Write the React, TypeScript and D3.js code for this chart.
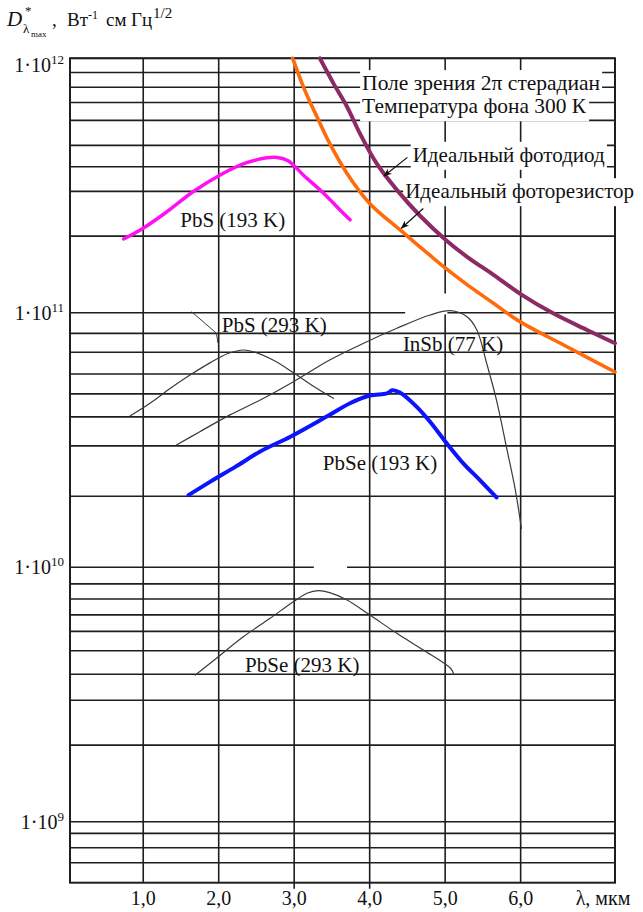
import React, { useRef, useEffect } from "react";
import * as d3 from "d3";

const W = 643;
const H = 912;

// wavelength (мкм) -> D* (Вт^-1 см Гц^1/2)
const idealDiode = [[3.34, 1e12], [3.52, 7.97e11], [3.7, 6.45e11], [3.87, 5.07e11], [4.09, 3.87e11], [4.36, 3.04e11], [4.67, 2.4e11], [5.02, 1.92e11], [5.29, 1.66e11], [5.64, 1.41e11], [5.99, 1.19e11], [6.43, 9.95e10], [6.88, 8.56e10], [7.25, 7.59e10]];
const idealResistor = [[2.98, 1e12], [3.14, 7.5e11], [3.3, 5.9e11], [3.47, 4.63e11], [3.7, 3.53e11], [4.0, 2.69e11], [4.4, 2.12e11], [4.71, 1.77e11], [5.0, 1.5e11], [5.29, 1.29e11], [5.64, 1.09e11], [5.99, 9.23e10], [6.57, 7.47e10], [7.25, 5.85e10]];
const pbs193 = [[0.74, 1.95e11], [1.0, 2.15e11], [1.31, 2.49e11], [1.66, 2.99e11], [2.02, 3.48e11], [2.37, 3.89e11], [2.77, 4.08e11], [2.92, 3.96e11], [3.12, 3.48e11], [3.39, 2.95e11], [3.61, 2.53e11], [3.74, 2.32e11]];
const pbs293 = [[0.83, 3.94e10], [1.09, 4.41e10], [1.36, 5.05e10], [1.62, 5.69e10], [1.89, 6.37e10], [2.13, 6.93e10], [2.33, 7.14e10], [2.46, 7.03e10], [2.72, 6.52e10], [2.97, 5.87e10], [3.25, 5.16e10], [3.52, 4.61e10]];
const insb77 = [[1.44, 3.02e10], [1.75, 3.41e10], [2.15, 3.97e10], [2.55, 4.54e10], [2.99, 5.36e10], [3.47, 6.52e10], [3.92, 7.59e10], [4.36, 8.69e10], [4.8, 9.8e10], [5.07, 1.02e11], [5.29, 9.65e10], [5.42, 8.56e10], [5.55, 6.33e10], [5.68, 4.54e10], [5.82, 2.89e10], [5.93, 2.01e10], [6.01, 1.42e10]];
const pbse193 = [[1.6, 1.92e10], [1.89, 2.17e10], [2.22, 2.48e10], [2.55, 2.85e10], [2.95, 3.26e10], [3.43, 3.91e10], [3.74, 4.41e10], [4.0, 4.73e10], [4.23, 4.82e10], [4.3, 4.96e10], [4.4, 4.86e10], [4.62, 4.28e10], [4.8, 3.73e10], [5.02, 3.07e10], [5.24, 2.56e10], [5.46, 2.2e10], [5.68, 1.88e10]];
const pbse293 = [[1.69, 3.77e9], [1.97, 4.39e9], [2.33, 5.34e9], [2.68, 6.3e9], [2.99, 7.32e9], [3.17, 7.9e9], [3.32, 8.09e9], [3.47, 7.95e9], [3.7, 7.44e9], [4.0, 6.5e9], [4.36, 5.5e9], [4.71, 4.73e9], [5.07, 4.01e9], [5.11, 3.83e9]];

const xTicks = [1, 2, 3, 4, 5, 6];
const xTickLabels = ["1,0", "2,0", "3,0", "4,0", "5,0", "6,0"];
const xTicksBelow = [3, 4];
const yMajor = [1e12, 1e11, 1e10, 1e9];
const yMajorExp = ["12", "11", "10", "9"];
// horizontal grid lines as drawn in the original (not exactly 2..9)
const yMinor = [8.8e11, 7.7e11, 6.7e11, 5.7e11, 4.55e11, 3.75e11, 3e11, 2e11, 8.3e10, 7e10, 5.75e10, 4.8e10, 3.9e10, 3e10, 1.9e10, 8.6e9, 7.5e9, 6.5e9, 5.6e9, 4.7e9, 3.8e9, 3e9, 2e9, 9e8, 7.9e8, 6.9e8];

const curves = [
  { data: pbse293, color: "#3a3a3a", width: 1.2 },
  { data: pbs293, color: "#3a3a3a", width: 1.2 },
  { data: insb77, color: "#3a3a3a", width: 1.2 },
  { data: pbse193, color: "#0a14ff", width: 4 },
  { data: pbs193, color: "#ff10f0", width: 3.5 },
  { data: idealResistor, color: "#ff6a0a", width: 3.6 },
  { data: idealDiode, color: "#8c2a66", width: 4 },
];

const labels = [
  { text: "Поле зрения 2π стерадиан", x: 3.9, y: 7.5e11, box: true, len: 238 },
  { text: "Температура фона 300 К", x: 3.9, y: 6.08e11, box: true, len: 224 },
  { text: "Идеальный фотодиод", x: 4.57, y: 3.92e11, box: true },
  { text: "Идеальный фоторезистор", x: 4.47, y: 2.82e11, box: true },
  { text: "PbS (193 K)", x: 1.49, y: 2.18e11 },
  { text: "PbS (293 K)", x: 2.04, y: 8.43e10 },
  { text: "InSb (77 K)", x: 4.44, y: 7.1e10 },
  { text: "PbSe (193 K)", x: 3.38, y: 2.41e10 },
  { text: "PbSe (293 K)", x: 2.35, y: 3.89e9 },
];

const arrows = [
  [[4.5, 4.08e11], [4.19, 3.45e11]],
  [[4.71, 2.57e11], [4.42, 2.15e11]],
];
const leader = [[1.64, 1.01e11], [1.97, 8.31e10], [1.99, 7.6e10]];

// white patches left in the source drawing
const patches = [
  { x0: 4.47, x1: 5.03, y0: 1.19e11, y1: 0.985e11 },
  { x0: 3.26, x1: 3.7, y0: 1.03e10, y1: 0.88e10 },
];

const App = () => {
  const ref = useRef(null);

  useEffect(() => {
    const svg = d3.select(ref.current);
    svg.selectAll("*").remove();

    const left = 70, right = 615, top = 58.3, bottom = 882.7;
    const x = d3.scaleLinear().domain([0.03, 7.25]).range([left, right]);
    const y = d3.scaleLog().domain([5.76e8, 1e12]).range([bottom, top]);
    const font = "'Liberation Serif', 'Times New Roman', serif";

    svg.append("rect").attr("width", W).attr("height", H).attr("fill", "#fff");

    const grid = svg.append("g").attr("stroke", "#1e1e1e").attr("stroke-width", 1.6);
    [...yMajor, ...yMinor].forEach((v) => {
      grid.append("line").attr("x1", left).attr("x2", right).attr("y1", y(v)).attr("y2", y(v));
    });
    xTicks.forEach((v) => {
      const below = xTicksBelow.includes(v) ? 6 : 0;
      grid.append("line").attr("x1", x(v)).attr("x2", x(v)).attr("y1", top).attr("y2", bottom + below);
    });
    svg.append("rect")
      .attr("x", left).attr("y", top).attr("width", right - left).attr("height", bottom - top)
      .attr("fill", "none").attr("stroke", "#1e1e1e").attr("stroke-width", 2);

    patches.forEach((p) => {
      svg.append("rect")
        .attr("x", x(p.x0)).attr("y", y(p.y0))
        .attr("width", x(p.x1) - x(p.x0)).attr("height", y(p.y1) - y(p.y0))
        .attr("fill", "#fff");
    });

    // labels with white boxes under them
    const labelG = svg.append("g").attr("font-family", font).attr("font-size", 21).attr("fill", "#111");
    const boxG = svg.insert("g", () => labelG.node());
    labels.forEach((l) => {
      const t = labelG.append("text").attr("x", x(l.x)).attr("y", y(l.y)).text(l.text);
      if (l.len) t.attr("textLength", l.len).attr("lengthAdjust", "spacingAndGlyphs");
      if (l.box) {
        const b = t.node().getBBox();
        boxG.append("rect")
          .attr("x", b.x - 2).attr("y", b.y - 1)
          .attr("width", b.width + 4).attr("height", b.height + 4)
          .attr("fill", "#fff");
      }
    });

    const lineGen = d3.line()
      .x((d) => x(d[0]))
      .y((d) => y(d[1]))
      .curve(d3.curveCatmullRom.alpha(0.5));
    const curveG = svg.insert("g", () => labelG.node());
    curves.forEach((c) => {
      curveG.append("path")
        .datum(c.data)
        .attr("fill", "none")
        .attr("stroke", c.color)
        .attr("stroke-width", c.width)
        .attr("stroke-linecap", "round")
        .attr("stroke-linejoin", "round")
        .attr("d", lineGen);
    });

    curveG.append("path")
      .datum(leader)
      .attr("fill", "none")
      .attr("stroke", "#3a3a3a")
      .attr("stroke-width", 1)
      .attr("d", d3.line().x((d) => x(d[0])).y((d) => y(d[1])));

    svg.append("defs").append("marker")
      .attr("id", "ah").attr("viewBox", "0 0 10 10").attr("refX", 9).attr("refY", 5)
      .attr("markerWidth", 7).attr("markerHeight", 7).attr("orient", "auto")
      .append("path").attr("d", "M0,1 L10,5 L0,9 L3,5 Z").attr("fill", "#111");
    arrows.forEach((a) => {
      svg.append("line")
        .attr("x1", x(a[0][0])).attr("y1", y(a[0][1]))
        .attr("x2", x(a[1][0])).attr("y2", y(a[1][1]))
        .attr("stroke", "#111").attr("stroke-width", 1.2)
        .attr("marker-end", "url(#ah)");
    });

    // y axis labels
    const yl = svg.append("g").attr("font-family", font).attr("fill", "#111");
    yMajor.forEach((v, i) => {
      const yy = y(v) + (i === 0 ? 14 : 7);
      const t = yl.append("text").attr("x", 64).attr("y", yy).attr("text-anchor", "end").attr("font-size", 20);
      t.append("tspan").text("1·10");
      t.append("tspan").attr("font-size", 13).attr("dy", -8).text(yMajorExp[i]);
    });

    // x axis labels
    const xl = svg.append("g").attr("font-family", font).attr("font-size", 20).attr("fill", "#111");
    xTicks.forEach((v, i) => {
      xl.append("text").attr("x", x(v)).attr("y", 905).attr("text-anchor", "middle").text(xTickLabels[i]);
    });
    xl.append("text").attr("x", x(6) + 55).attr("y", 905).text("λ, мкм");

    // title
    const tg = svg.append("g").attr("font-family", font).attr("fill", "#111");
    tg.append("text").attr("x", 7).attr("y", 26).attr("font-size", 21).attr("font-style", "italic").text("D");
    tg.append("text").attr("x", 25).attr("y", 15).attr("font-size", 13).text("*");
    tg.append("text").attr("x", 23).attr("y", 33).attr("font-size", 13).text("λ");
    tg.append("text").attr("x", 31).attr("y", 37).attr("font-size", 9).text("max");
    tg.append("text").attr("x", 52).attr("y", 26).attr("font-size", 19).text(",");
    tg.append("text").attr("x", 67).attr("y", 26).attr("font-size", 19).text("Вт");
    tg.append("text").attr("x", 88).attr("y", 19).attr("font-size", 12).text("-1");
    tg.append("text").attr("x", 106).attr("y", 26).attr("font-size", 19).text("см");
    tg.append("text").attr("x", 131).attr("y", 26).attr("font-size", 19).text("Гц");
    tg.append("text").attr("x", 153).attr("y", 18).attr("font-size", 15).text("1/2");
  }, []);

  return (
    <svg ref={ref} width={W} height={H} style={{ position: "absolute", left: 0, top: 0 }} />
  );
};

export default App;
